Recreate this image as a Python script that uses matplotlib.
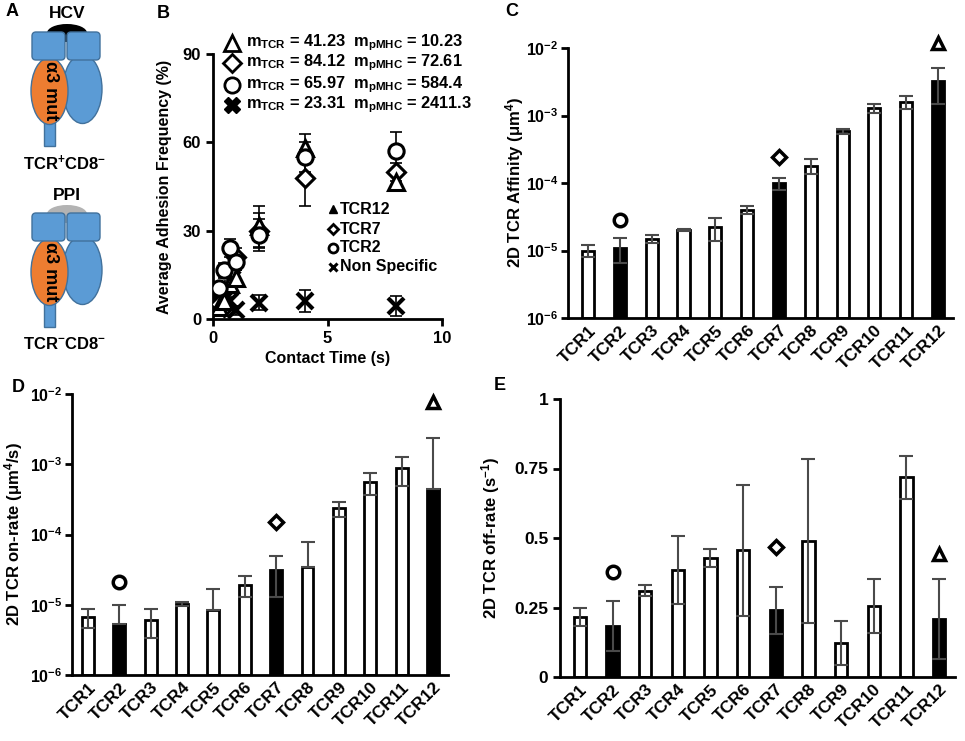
import numpy as np
import matplotlib
matplotlib.use("Agg")
import matplotlib.pyplot as plt
from matplotlib.patches import Ellipse, FancyBboxPatch, Rectangle

plt.rcParams['font.family'] = ['Liberation Sans', 'DejaVu Sans']
plt.rcParams['font.weight'] = 'bold'
plt.rcParams['mathtext.fontset'] = 'custom'
plt.rcParams['mathtext.rm'] = 'Liberation Sans:bold'
plt.rcParams['mathtext.bf'] = 'Liberation Sans:bold'
plt.rcParams['mathtext.default'] = 'bf'

W, H = 965, 741

# ---- data ----
tcr_names = ['TCR%d' % i for i in range(1, 13)]
black_bars = [1, 6, 11]  # TCR2, TCR7, TCR12

affinity = [1.0e-5, 1.1e-5, 1.5e-5, 2.0e-5, 2.2e-5, 4.0e-5, 1.0e-4, 1.8e-4, 5.8e-4, 1.3e-3, 1.6e-3, 3.3e-3]
affinity_err = [0.2e-5, 0.45e-5, 0.2e-5, 0.05e-5, 0.8e-5, 0.5e-5, 0.2e-4, 0.45e-4, 0.5e-4, 0.2e-3, 0.35e-3, 1.8e-3]

on_rate = [6.6e-6, 5.3e-6, 6.1e-6, 1.03e-5, 8.4e-6, 1.92e-5, 3.1e-5, 3.4e-5, 2.35e-4, 5.5e-4, 8.7e-4, 4.4e-4]
on_rate_err = [2.0e-6, 4.5e-6, 2.7e-6, 0.7e-6, 8.4e-6, 6.5e-6, 1.8e-5, 4.5e-5, 5.5e-5, 1.9e-4, 3.8e-4, 1.9e-3]

off_rate = [0.216, 0.182, 0.31, 0.386, 0.428, 0.456, 0.24, 0.489, 0.122, 0.254, 0.719, 0.209]
off_rate_err = [0.032, 0.09, 0.02, 0.122, 0.033, 0.235, 0.085, 0.295, 0.078, 0.097, 0.077, 0.143]

# symbols above TCR2 / TCR7 / TCR12
sym_idx = [1, 6, 11]
sym_marks = ['o', 'D', '^']
sym_affinity = [2.8e-5, 2.45e-4, 1.2e-2]
sym_on_rate = [2.1e-5, 1.5e-4, 7.6e-3]
sym_off_rate = [0.376, 0.466, 0.442]

# panel B: adhesion frequency vs contact time
times = [0.25, 0.5, 0.75, 1, 2, 4, 8]
adh_tcr12 = [4, 6, 12, 14, 31.5, 58, 46.5]
adh_tcr12_err = [1.5, 2, 2, 2.5, 7, 5, 2.5]
adh_tcr7 = [5, 4, 16, 21, 30, 48, 50]
adh_tcr7_err = [1.5, 1.5, 3, 3, 6, 9.5, 3]
adh_tcr2 = [10.5, 16.5, 24, 19.5, 28.5, 55, 57]
adh_tcr2_err = [2, 2.5, 3, 3, 5.5, 5, 6.5]
adh_ns = [6, 6.5, 6, 3, 5.5, 6, 4.5]
adh_ns_err = [1.5, 1.5, 1.5, 1.5, 2.5, 3.7, 3.4]

m_tcr = ['41.23', '84.12', '65.97', '23.31']
m_pmhc = ['10.23', '72.61', '584.4', '2411.3']
inner_legend = ['TCR12', 'TCR7', 'TCR2', 'Non Specific']

fig = plt.figure(figsize=(W / 100, H / 100), dpi=100)


def px_rect(x0, y0, x1, y1):
    return [x0 / W, 1 - y1 / H, (x1 - x0) / W, (y1 - y0) / H]


def style_axes(ax):
    for s in ['top', 'right']:
        ax.spines[s].set_visible(False)
    for s in ['left', 'bottom']:
        ax.spines[s].set_linewidth(2)
    ax.tick_params(axis='y', which='major', direction='out', width=2, length=5, labelsize=12.5)
    ax.tick_params(axis='y', which='minor', left=False)
    ax.tick_params(axis='x', length=0, labelsize=12.5)


def bar_panel(rect, vals, errs, syms, ylabel, log=True, hide_neg_lower=False):
    ax = fig.add_axes(px_rect(*rect))
    x = np.arange(len(vals))
    vals = np.array(vals)
    errs = np.array(errs)
    colors = ['black' if i in black_bars else 'white' for i in range(len(vals))]
    if log:
        base = 1e-6
        ax.bar(x, vals - base, bottom=base, width=0.38, color=colors, edgecolor='black', linewidth=2, zorder=2)
        lower = errs.copy()
        for i in range(len(vals)):
            if vals[i] - errs[i] <= base:
                lower[i] = 0 if hide_neg_lower else vals[i] - base * 1.01
        ax.set_yscale('log')
        ax.set_ylim(1e-6, 1e-2)
        ax.set_yticks([1e-6, 1e-5, 1e-4, 1e-3, 1e-2])
        ax.set_yticklabels([r'$10^{-6}$', r'$10^{-5}$', r'$10^{-4}$', r'$10^{-3}$', r'$10^{-2}$'])
    else:
        ax.bar(x, vals, width=0.38, color=colors, edgecolor='black', linewidth=2, zorder=2)
        lower = errs
        ax.set_ylim(0, 1)
        ax.set_yticks([0, 0.25, 0.5, 0.75, 1])
        ax.set_yticklabels(['0', '0.25', '0.5', '0.75', '1'])
    ax.errorbar(x, vals, yerr=[lower, errs], fmt='none', ecolor='#4a4a4a', elinewidth=1.5,
                capsize=5, capthick=1.5, zorder=3)
    for i, m, yv in zip(sym_idx, sym_marks, syms):
        ms = 9 if m != 'D' else 7.5
        ax.plot(x[i], yv, marker=m, ms=ms, mfc='white', mec='black', mew=2.5, clip_on=False, zorder=4)
    ax.set_xticks(x)
    ax.set_xticklabels(tcr_names, rotation=45, ha='right', rotation_mode='anchor', fontweight='bold')
    ax.set_ylabel(ylabel, fontsize=12, fontweight='bold')
    style_axes(ax)
    if log:
        ax.tick_params(axis='y', labelsize=11.5, pad=2)
    return ax


# ---- panel C ----
axc = bar_panel((568, 48, 953, 318), affinity, affinity_err, sym_affinity, r'2D TCR Affinity (μm$^{4}$)')
axc.set_xlim(-0.63, 11.47)
axc.yaxis.set_label_coords(-0.11, 0.5)

# ---- panel D ----
axd = bar_panel((72, 394, 448, 675), on_rate, on_rate_err, sym_on_rate, r'2D TCR on-rate (μm$^{4}$/s)',
                hide_neg_lower=True)
axd.set_xlim(-0.51, 11.48)
axd.yaxis.set_label_coords(-0.125, 0.5)

# ---- panel E ----
axe = bar_panel((560, 399, 955, 677), off_rate, off_rate_err, sym_off_rate, r'2D TCR off-rate (s$^{-1}$)', log=False)
axe.set_xlim(-0.61, 11.49)
axe.yaxis.set_label_coords(-0.147, 0.5)

# ---- panel B ----
axb = fig.add_axes(px_rect(213, 54, 442, 319))
for yv, ye, m, ms in [(adh_ns, adh_ns_err, 'x', 11), (adh_tcr7, adh_tcr7_err, 'D', 9),
                      (adh_tcr12, adh_tcr12_err, '^', 11), (adh_tcr2, adh_tcr2_err, 'o', 11)]:
    axb.errorbar(times, yv, yerr=ye, fmt='none', ecolor='black', elinewidth=1.2, capsize=4, capthick=1.2, zorder=2)
    if m == 'x':
        axb.plot(times, yv, ls='none', marker='x', ms=ms, mec='black', mew=3, zorder=3)
    else:
        axb.plot(times, yv, ls='none', marker=m, ms=ms, mfc='white', mec='black', mew=2.2, zorder=3)
axb.set_xlim(0, 10)
axb.set_ylim(0, 90)
axb.set_xticks([0, 5, 10])
axb.set_yticks([0, 30, 60, 90])
style_axes(axb)
axb.tick_params(axis='both', labelsize=12)
axb.tick_params(axis='x', direction='out', width=2, length=5)
axb.set_xlabel('Contact Time (s)', fontsize=11.5, fontweight='bold')
axb.set_ylabel('Average Adhesion Frequency (%)', fontsize=11.5, fontweight='bold')
axb.yaxis.set_label_coords(-0.18, 0.5)

# ---- overlay: panel A, panel letters, legends ----
ov = fig.add_axes([0, 0, 1, 1], zorder=10)
ov.set_xlim(0, W)
ov.set_ylim(H, 0)
ov.axis('off')

for lbl, (lx, ly) in zip('ABCDE', [(12, 12), (163, 13), (512, 12), (18, 387), (500, 385)]):
    ov.text(lx, ly, lbl, fontsize=13, fontweight='bold', ha='center', va='center')

blue = '#5b9bd5'
blue_edge = '#41719c'
orange = '#ed7d31'


def receptor(y0, cap_color, cap_label, cell_label):
    ov.text(67, y0 - 18, cap_label, fontsize=12.5, ha='center', va='center')
    ov.add_patch(Ellipse((67, y0 + 1), 40, 18, fc=cap_color, ec='none', zorder=1))
    ov.add_patch(Rectangle((44, y0 + 88), 11, 26, fc=blue, ec=blue_edge, lw=1, zorder=1))
    ov.add_patch(Ellipse((82.5, y0 + 57), 39, 69, fc=blue, ec=blue_edge, lw=1, zorder=2))
    ov.add_patch(Ellipse((49.5, y0 + 59), 37, 67, fc=orange, ec=blue_edge, lw=1, zorder=3))
    for bx in (32, 67):
        ov.add_patch(FancyBboxPatch((bx, y0), 33, 28, boxstyle='round,pad=0,rounding_size=4',
                                    fc=blue, ec=blue_edge, lw=1, zorder=4))
    ov.text(50, y0 + 59, 'α3 mut', rotation=-90, fontsize=13, ha='center', va='center', zorder=5)
    ov.text(65, y0 + 131, cell_label, fontsize=12, ha='center', va='center')


receptor(32, 'black', 'HCV', r'TCR$^{+}$CD8$^{-}$')
receptor(213, '#b3b3b3', 'PPI', r'TCR$^{-}$CD8$^{-}$')

# top legend of panel B
for k, (m, yy) in enumerate(zip(['^', 'D', 'o', 'X'], [43, 63, 85, 105])):
    if m == 'X':
        ov.plot(232, yy, marker='X', ms=12, mfc='black', mec='black', mew=1)
    else:
        ov.plot(232, yy, marker=m, ms=11 if m != 'D' else 9, mfc='white', mec='black', mew=2)
    ov.text(246, yy, r'm$_{TCR}$ = %s  m$_{pMHC}$ = %s' % (m_tcr[k], m_pmhc[k]),
            fontsize=11.8, ha='left', va='center')

# inner legend of panel B
for k, (m, yy) in enumerate(zip(['^', 'D', 'o', 'x'], [209, 229, 248, 267])):
    if m == '^':
        ov.plot(333, yy, marker='^', ms=6, mfc='black', mec='black')
    elif m == 'x':
        ov.plot(333, yy, marker='x', ms=6, mec='black', mew=2.2)
    else:
        ov.plot(333, yy, marker=m, ms=5.5 if m == 'D' else 6.5, mfc='white', mec='black', mew=2)
    ov.text(340, yy, inner_legend[k], fontsize=11.5, ha='left', va='center')

fig.savefig('out.png', dpi=100)
